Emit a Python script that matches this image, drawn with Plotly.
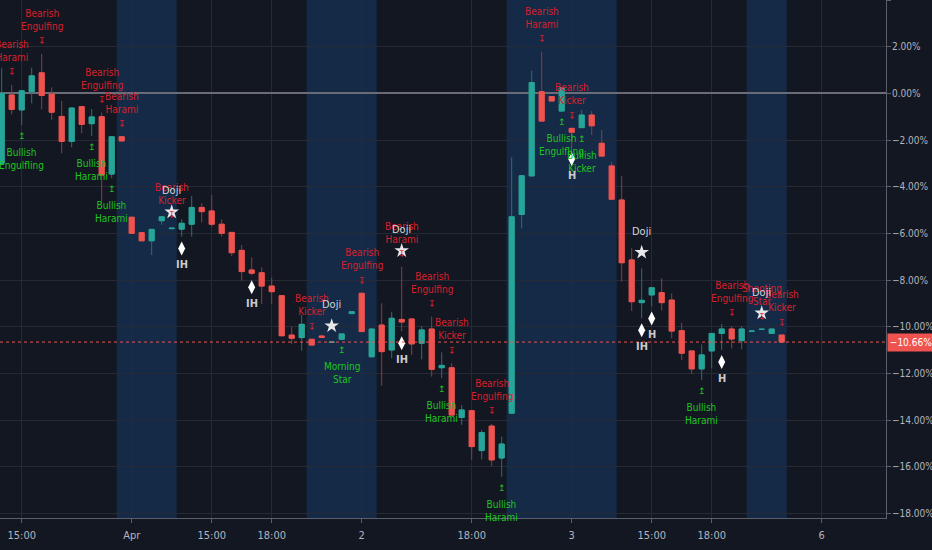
import plotly.graph_objects as go

# ---------------- data (percent change scale) ----------------
opens = [-3.00, -0.07, -0.71, 0.07, 0.88, -0.03, -0.99, -2.06, -0.57, -1.30,
         -1.00, -3.46, -1.86, -5.31, -5.97, -6.32, -5.46, -5.80, -5.82, -5.61,
         -4.89, -5.04, -5.61, -5.96, -6.73, -7.57, -7.69, -8.26, -8.67, -10.36,
         -10.47, -10.54, -10.40, -10.67, -10.54, -9.44, -8.57, -11.29, -9.93, -11.00,
         -9.69, -9.67, -10.71, -10.10, -11.76, -11.76, -13.89, -13.60, -15.31, -14.26,
         -15.63, -13.71, -5.19, -3.54, 0.07, -0.14, -0.76, -1.50, -1.47, -0.93,
         -2.14, -3.11, -4.57, -7.14, -8.97, -8.64, -8.54, -8.86, -10.17, -11.04,
         -11.81, -11.04, -10.29, -10.10, -10.60, -10.20, -10.12, -10.29, -10.36]
highs = [1.08, 0.36, 0.11, 1.10, 1.69, 0.26, -0.33, -0.63, -0.57, -0.67,
         -0.83, -1.86, -1.86, -5.31, -5.97, -5.83, -5.29, -5.77, -5.40, -4.40,
         -4.71, -4.36, -5.40, -5.96, -6.50, -7.03, -7.46, -7.90, -8.67, -10.00,
         -9.50, -10.54, -10.35, -10.65, -10.31, -9.36, -8.57, -10.10, -9.00, -9.36,
         -7.43, -9.67, -9.97, -9.57, -11.10, -11.57, -13.36, -13.60, -14.43, -14.17,
         -14.71, -2.74, -3.53, 0.97, 1.79, -0.14, 0.24, -1.50, -0.71, -0.76,
         -1.57, -2.93, -3.54, -6.64, -7.50, -8.33, -7.93, -8.57, -9.83, -11.04,
         -10.76, -10.29, -9.89, -9.97, -9.97, -10.18, -10.10, -10.10, -10.36]
lows = [-3.07, -0.90, -1.36, -0.43, -0.69, -1.14, -2.57, -2.31, -1.71, -1.83,
        -4.65, -3.64, -2.04, -6.00, -6.32, -6.93, -5.64, -5.81, -6.14, -6.14,
        -5.54, -5.71, -6.14, -6.97, -8.03, -7.80, -9.03, -9.03, -10.39, -10.74,
        -11.03, -10.79, -10.50, -10.68, -10.54, -9.44, -10.21, -11.29, -12.53, -11.36,
        -10.20, -11.21, -11.40, -12.14, -12.21, -13.79, -14.21, -15.71, -15.69, -15.97,
        -16.43, -13.71, -5.79, -3.54, -1.19, -0.33, -0.76, -2.30, -1.47, -1.79,
        -2.69, -4.54, -8.07, -9.33, -9.64, -9.14, -9.31, -10.50, -11.43, -12.03,
        -12.29, -11.79, -11.00, -10.93, -10.97, -10.21, -10.13, -10.29, -10.66]
closes = [0.00, -0.69, 0.11, 0.75, -0.09, -0.81, -2.06, -0.63, -1.33, -1.01,
          -3.50, -1.86, -2.04, -6.00, -6.32, -5.83, -5.29, -5.78, -5.57, -4.89,
          -5.07, -5.61, -6.00, -6.83, -7.64, -7.71, -8.26, -8.50, -10.39, -10.50,
          -9.90, -10.79, -10.46, -10.66, -10.31, -9.36, -10.21, -10.10, -11.07, -9.64,
          -9.80, -10.74, -10.14, -11.83, -11.66, -13.79, -13.57, -15.14, -14.54, -15.71,
          -15.03, -5.29, -3.53, 0.46, -1.19, -0.33, 0.24, -1.67, -0.93, -1.39,
          -2.69, -4.54, -7.26, -8.93, -8.87, -8.33, -8.97, -10.19, -11.14, -11.81,
          -11.21, -10.29, -10.10, -10.53, -10.10, -10.19, -10.11, -10.10, -10.66]
bars = list(range(len(opens)))

tick_bars = [2, 13, 21, 27, 36, 47, 57, 65, 71, 82]
tick_labels = ["15:00", "Apr", "15:00", "18:00", "2", "18:00", "3", "15:00", "18:00", "6"]

session_bands = [(11.5, 17.5), (30.5, 37.5), (50.5, 61.5), (74.5, 78.5)]

bear_bars = [1, 4, 10, 12, 17, 31, 36, 40, 43, 45, 49, 54, 57, 73, 76, 78]
bear_labels = ["Bearish<br>Harami", "Bearish<br>Engulfing", "Bearish<br>Engulfing",
               "Bearish<br>Harami", "Bearish<br>Kicker", "Bearish<br>Kicker",
               "Bearish<br>Engulfing", "Bearish<br>Harami", "Bearish<br>Engulfing",
               "Bearish<br>Kicker", "Bearish<br>Engulfing", "Bearish<br>Harami",
               "Bearish<br>Kicker", "Bearish<br>Engulfing", "Shooting<br>Star",
               "Bearish<br>Kicker"]
bull_bars = [2, 9, 11, 34, 44, 50, 56, 58, 70]
bull_labels = ["Bullish<br>Engulfling", "Bullish<br>Harami", "Bullish<br>Harami",
               "Morning<br>Star", "Bullish<br>Harami", "Bullish<br>Harami",
               "Bullish<br>Engulfling", "Bullish<br>Kicker", "Bullish<br>Harami"]
doji_bars = [17, 33, 40, 64, 76]
hs_bars = [18, 25, 40, 57, 64, 65, 72]
hs_labels = ["IH", "IH", "IH", "H", "IH", "H", "H"]

# ---------------- style ----------------
BG = "#131722"
GRID = "#262a35"
AXIS = "#5d606b"
TXT = "#b2b5be"
UP, DOWN = "#26a69a", "#ef5350"
UP_WICK, DOWN_WICK = "#2b716b", "#8e3b3f"
BEAR_TXT, BULL_TXT = "#d9202b", "#1fc51f"
WHITE_TXT = "#d1d4dc"
FONT = "Liberation Sans Narrow, DejaVu Sans Condensed, Arial Narrow, sans-serif"

W, H = 932, 550
M = dict(l=0, r=46, t=0, b=32)
Y_RANGE = [-18.2, 4.0]
X_RANGE = [-0.17, 88.43]
PX = (H - M["t"] - M["b"]) / (Y_RANGE[1] - Y_RANGE[0])  # pixels per percent

fig = go.Figure()

# wicks (full range, darker)
fig.add_trace(go.Candlestick(
    x=bars, open=opens, high=highs, low=lows, close=closes,
    increasing=dict(line=dict(color=UP_WICK, width=1), fillcolor=UP_WICK),
    decreasing=dict(line=dict(color=DOWN_WICK, width=1), fillcolor=DOWN_WICK),
    whiskerwidth=0, hoverinfo="skip", showlegend=False))
# bodies (bright)
body_hi = [max(o, c) for o, c in zip(opens, closes)]
body_lo = [min(o, c) for o, c in zip(opens, closes)]
fig.add_trace(go.Candlestick(
    x=bars, open=opens, high=body_hi, low=body_lo, close=closes,
    increasing=dict(line=dict(color=UP, width=1), fillcolor=UP),
    decreasing=dict(line=dict(color=DOWN, width=1), fillcolor=DOWN),
    whiskerwidth=0, hoverinfo="skip", showlegend=False))

# doji stars and H/IH diamonds
fig.add_trace(go.Scatter(
    x=doji_bars, y=[highs[k] + 16 / PX for k in doji_bars], mode="markers",
    marker=dict(symbol="star", size=11, color="#e8e8ec", line=dict(width=0)),
    hoverinfo="skip", showlegend=False, cliponaxis=False))
fig.add_trace(go.Scatter(
    x=hs_bars, y=[lows[k] - 12 / PX for k in hs_bars], mode="markers",
    marker=dict(symbol="diamond-tall", size=10, color="#ffffff", line=dict(width=0)),
    hoverinfo="skip", showlegend=False, cliponaxis=False))

ann = []
for k, t in zip(bear_bars, bear_labels):
    ann.append(dict(x=k, y=highs[k], text="↧", showarrow=False, yshift=12.5,
                    font=dict(family="DejaVu Sans", size=9, color=BEAR_TXT)))
    ann.append(dict(x=k, y=highs[k], text=t, showarrow=False, yshift=34,
                    font=dict(family=FONT, size=10, color=BEAR_TXT)))
for k, t in zip(bull_bars, bull_labels):
    ann.append(dict(x=k, y=lows[k], text="↥", showarrow=False, yshift=-11,
                    font=dict(family="DejaVu Sans", size=9, color=BULL_TXT)))
    ann.append(dict(x=k, y=lows[k], text=t, showarrow=False, yshift=-34,
                    font=dict(family=FONT, size=10, color=BULL_TXT)))
for k in doji_bars:
    ann.append(dict(x=k, y=highs[k], text="Doji", showarrow=False, yshift=37,
                    font=dict(family=FONT, size=11, color=WHITE_TXT)))
for k, t in zip(hs_bars, hs_labels):
    ann.append(dict(x=k, y=lows[k], text="<b>" + t + "</b>", showarrow=False, yshift=-28,
                    font=dict(family=FONT, size=11, color="#c9cacf")))

last = closes[-1]
ann.append(dict(xref="paper", x=1, xanchor="left", xshift=1, y=last, yref="y",
                text=f"{last:.2f}%".replace("-", "−"), showarrow=False,
                bgcolor=DOWN, width=44, height=15,
                font=dict(family=FONT, size=10, color="#ffffff")))

shapes = []
for x0, x1 in session_bands:
    shapes.append(dict(type="rect", xref="x", yref="paper", x0=x0, x1=x1, y0=0, y1=1,
                       fillcolor="#152a46", line=dict(width=0), layer="below"))
shapes.append(dict(type="line", xref="paper", yref="y", x0=0, x1=1, y0=last, y1=last,
                   line=dict(color=DOWN, width=1, dash="dot"), layer="above"))

fig.update_layout(
    width=W, height=H, margin=M,
    paper_bgcolor=BG, plot_bgcolor=BG,
    font=dict(family=FONT, size=11, color=TXT),
    annotations=ann, shapes=shapes, boxgap=0.28,
    xaxis=dict(range=X_RANGE, tickmode="array", tickvals=tick_bars, ticktext=tick_labels,
               showgrid=True, gridcolor=GRID, gridwidth=1, zeroline=False,
               showline=True, linecolor=AXIS, linewidth=1,
               ticks="outside", ticklen=4, tickcolor=AXIS, ticklabelstandoff=3,
               tickfont=dict(family=FONT, size=11, color=TXT), automargin=False,
               rangeslider=dict(visible=False), fixedrange=True),
    yaxis=dict(range=Y_RANGE, side="right", dtick=2, tick0=0, tickformat=".2f",
               ticksuffix="%", showgrid=True, gridcolor=GRID, gridwidth=1,
               zeroline=True, zerolinecolor="#6a6d78", zerolinewidth=1.5,
               showline=True, linecolor=AXIS, linewidth=1, mirror=False,
               ticks="outside", ticklen=4, tickcolor=AXIS, automargin=False,
               ticklabelstandoff=-1,
               tickfont=dict(family=FONT, size=10, color=TXT), fixedrange=True),
)

fig.write_html("out.html", config={"displayModeBar": False},
               post_script="document.body.style.margin='0';document.body.style.background='%s';" % BG)
